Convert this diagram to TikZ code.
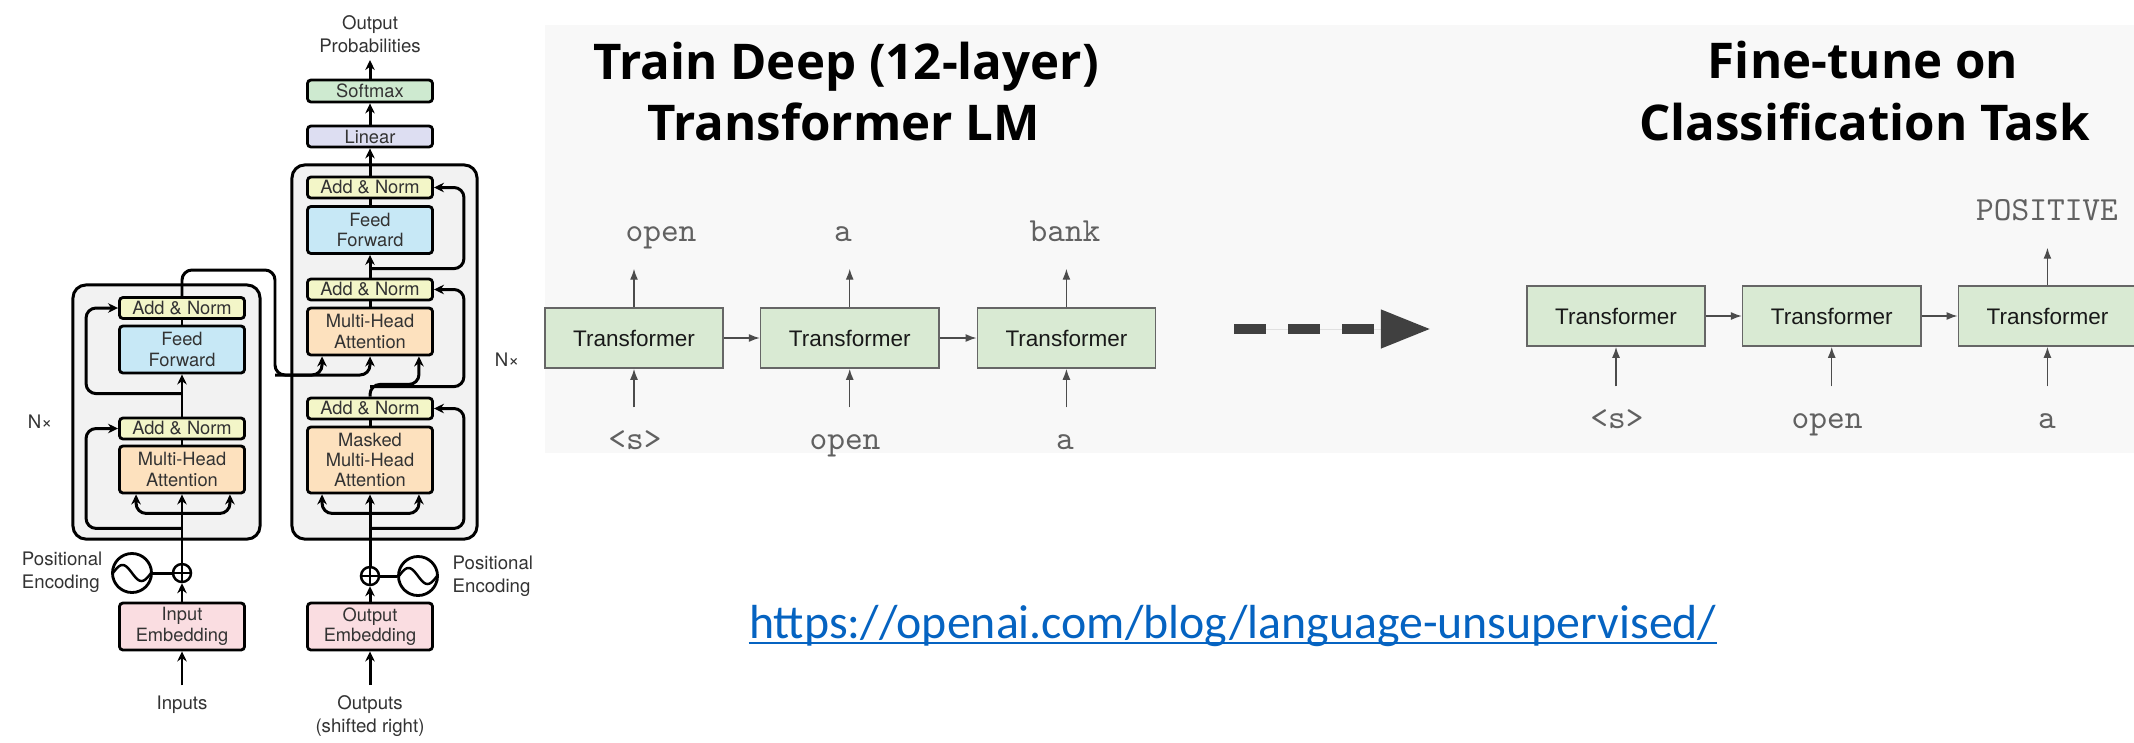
\documentclass[tikz,border=0pt]{standalone}
\usepackage{fontspec}
\usetikzlibrary{positioning}
\usetikzlibrary{calc}
\usetikzlibrary{arrows.meta}
\newfontfamily\helv{TeX Gyre Heros}
\newfontfamily\arialfont{Liberation Sans}
\newfontfamily\titlefont{Open Sans}[Ligatures=CommonOff]
\newfontfamily\linkfont{Carlito}
\definecolor{cAN}{RGB}{243,246,200}
\definecolor{cFF}{RGB}{199,232,246}
\definecolor{cATT}{RGB}{253,225,190}
\definecolor{cEMB}{RGB}{250,221,225}
\definecolor{cLIN}{RGB}{221,222,242}
\definecolor{cSOFT}{RGB}{206,234,208}
\definecolor{cSTACK}{RGB}{242,242,242}
\definecolor{cTF}{RGB}{217,234,211}
\definecolor{cPANEL}{RGB}{248,248,248}
\definecolor{linkblue}{RGB}{5,99,193}

\begin{document}
\begin{tikzpicture}[
x=0.01cm, y=-0.01cm,
wire/.style={line width=0.85pt, rounded corners=1mm},
arr/.style={wire, -{Stealth[length=1mm,width=0.95mm]}},
block/.style={draw, line width=0.8pt, rounded corners=0.35mm, minimum width=12.5mm, inner sep=0pt, align=center, font=\helv\fontsize{5.2}{5.8}\selectfont, text=black!80},
addnorm/.style={block, fill=cAN, minimum height=2.1mm},
ffbox/.style={block, fill=cFF, minimum height=4.7mm},
attbox/.style={block, fill=cATT, minimum height=4.7mm},
embbox/.style={block, fill=cEMB, minimum height=4.7mm},
stack/.style={draw, line width=0.85pt, rounded corners=1.3mm, fill=cSTACK},
archtext/.style={font=\helv\fontsize{5.3}{6.4}\selectfont, text=black!80, align=center, inner sep=1mm},
addcirc/.style={circle, draw, line width=0.7pt, minimum size=1.8mm, inner sep=0pt},
sinecirc/.style={circle, draw, line width=0.8pt, minimum size=3.9mm, inner sep=0pt},
tfbox/.style={draw=black!60, line width=0.45pt, fill=cTF, minimum width=17.8mm, minimum height=6mm, font=\arialfont\fontsize{6.4}{7.5}\selectfont, text=black!90},
token/.style={font=\ttfamily\fontsize{9.6}{11}\selectfont, text=black!62, text height=2.1mm, text depth=0.7mm, inner xsep=0pt, inner ysep=2mm},
tfarr/.style={-{Latex[length=1.1mm,width=0.8mm]}, draw=black!70, line width=0.4pt},
titletext/.style={font=\titlefont\bfseries\fontsize{14}{17}\selectfont, anchor=base, inner sep=0pt}
]
\useasboundingbox (0,0) rectangle (2134,742);

% background of the GPT panel
\fill[cPANEL] (545,25) rectangle (2134,453);

% encoder and decoder stacks
\node[stack, minimum width=18.7mm, minimum height=25.4mm] (encstack) at (166.5,412) {};
\node[stack, minimum width=18.5mm, minimum height=37.4mm] (decstack) at (384.5,352) {};

% encoder
\node[addnorm] (encanu) at (182,308) {Add \& Norm};
\node[ffbox] (encff) at (182,349.5) {Feed\\Forward};
\node[addnorm] (encanl) at (182,428.5) {Add \& Norm};
\node[attbox] (encmha) at (182,469.5) {Multi-Head\\Attention};
\node[addcirc] (encadd) at (182,573) {};
\node[sinecirc] (encsine) at (132,573) {};
\node[embbox] (encemb) at (182,626.5) {Input\\Embedding};
\node[archtext] (inputs) at (182,705) {Inputs};
\node[archtext, align=left, anchor=east, inner sep=0pt] (encpos) at (103,572) {Positional\\Encoding};
\node[archtext] (encn) at (40,422) {N×};

% decoder
\node[archtext, anchor=south, inner sep=0.7mm] (outprob) at (370,60) {Output\\Probabilities};
\node[block, fill=cSOFT, minimum height=2.2mm] (softmax) at (370,91) {Softmax};
\node[block, fill=cLIN, minimum height=2.1mm] (linear) at (370,136.5) {Linear};
\node[addnorm] (decant) at (370,187.5) {Add \& Norm};
\node[ffbox] (decff) at (370,230) {Feed\\Forward};
\node[addnorm] (decanm) at (370,289.5) {Add \& Norm};
\node[attbox] (decmha) at (370,331.5) {Multi-Head\\Attention};
\node[addnorm] (decanl) at (370,408.5) {Add \& Norm};
\node[attbox, minimum height=6.6mm] (decmmha) at (370,460) {Masked\\Multi-Head\\Attention};
\node[addcirc] (decadd) at (370,576) {};
\node[sinecirc] (decsine) at (418,576) {};
\node[embbox] (decemb) at (370,626.5) {Output\\Embedding};
\node[archtext] (outputs) at (370,716) {Outputs\\(shifted right)};
\node[archtext, align=left, anchor=west, inner sep=0pt] (decpos) at (452,576) {Positional\\Encoding};
\node[archtext] (decn) at (507,360) {N×};

% plus and sine symbols
\draw[line width=0.6pt] (encadd.north) -- (encadd.south) (encadd.west) -- (encadd.east);
\draw[line width=0.6pt] (decadd.north) -- (decadd.south) (decadd.west) -- (decadd.east);
\draw[line width=0.7pt, shift={(encsine.center)}] plot[domain=-19:19, samples=41, smooth] (\x,{8*sin(180*\x/19)});
\draw[line width=0.7pt, shift={(decsine.center)}] plot[domain=-19:19, samples=41, smooth] (\x,{8*sin(180*\x/19)});

% encoder wires
\draw[arr] (inputs) -- (encemb);
\draw[arr] (encemb) -- (encadd);
\draw[wire] (encsine) -- (encadd);
\draw[arr] (encadd) -- (encmha);
\draw[arr] ($(encmha.south)+(0,19)$) -| ($(encmha.south west)+(18,0)$);
\draw[arr] ($(encmha.south)+(0,19)$) -| ($(encmha.south east)+(-16,0)$);
\draw[arr] ($(encmha.south)+(0,34)$) -| ($(encanl.west)+(-32,0)$) -- (encanl.west);
\draw[wire] (encmha) -- (encanl);
\draw[arr] (encanl) -- (encff);
\draw[arr] ($(encanl.north)+(0,-23)$) -| ($(encanu.west)+(-32,0)$) -- (encanu.west);
\draw[wire] (encff) -- (encanu);

% encoder output into the decoder
\coordinate (memory) at (275,375);
\draw[arr] (encanu.north) |- ($(memory)+(0,-105)$) -- (memory) -| ($(decmha.south west)+(16,0)$);
\draw[arr] (memory) -| (decmha.south);

% decoder wires
\draw[arr] (outputs) -- (decemb);
\draw[arr] (decemb) -- (decadd);
\draw[wire] (decsine) -- (decadd);
\draw[arr] (decadd) -- (decmmha);
\draw[arr] ($(decmmha.south)+(0,19)$) -| ($(decmmha.south west)+(16,0)$);
\draw[arr] ($(decmmha.south)+(0,19)$) -| ($(decmmha.south east)+(-15,0)$);
\draw[arr] ($(decmmha.south)+(0,34)$) -| ($(decanl.east)+(30,0)$) -- (decanl.east);
\draw[wire] (decmmha) -- (decanl);
\draw[arr] (decanl.north) |- ($(decmha.south east)+(-15,28)$) -- ($(decmha.south east)+(-15,0)$);
\draw[arr] ($(decanl.north)+(0,-10)$) -| ($(decanm.east)+(30,0)$) -- (decanm.east);
\draw[wire] (decmha) -- (decanm);
\draw[arr] (decanm) -- (decff);
\draw[arr] ($(decanm.north)+(0,-9)$) -| ($(decant.east)+(30,0)$) -- (decant.east);
\draw[wire] (decff) -- (decant);
\draw[arr] (decant) -- (linear);
\draw[arr] (linear) -- (softmax);
\draw[arr] (softmax) -- (outprob);

% titles
\node[titletext] (ttltrain) at (846,79) {Train Deep (12-layer)};
\node[titletext] (ttltrainb) at (843.5,140) {Transformer LM};
\node[titletext] (ttltune) at (1863,78) {Fine-tune on};
\node[titletext] (ttltuneb) at (1864.5,140) {Classification Task};

% language model
\node[tfbox] (tr1) at (634,338) {Transformer};
\node[tfbox, right=3.6mm of tr1] (tr2) {Transformer};
\node[tfbox, right=3.7mm of tr2] (tr3) {Transformer};
\node[token] (out1) at (661,234) {open};
\node[token] (out2) at (843,234) {a};
\node[token] (out3) at (1065,234) {bank};
\node[token] (in1) at (635,442) {<s>};
\node[token] (in2) at (845,442) {open};
\node[token] (in3) at (1065,442) {a};

\draw[tfarr] (tr1) -- (tr2);
\draw[tfarr] (tr2) -- (tr3);
\foreach \i in {1,2,3} {
  \draw[tfarr] (tr\i.north) -- (tr\i.north |- out\i.south);
  \draw[tfarr] (tr\i.south |- in\i.north) -- (tr\i.south);
}

% transfer arrow
\coordinate (dashfrom) at (1234,329);
\coordinate (dashto) at (1431,329);
\draw[draw=black!75, fill=black!75, line width=1mm, dash pattern=on 3.2mm off 2.2mm, -{Triangle[length=5mm,width=3.6mm]}] (dashfrom) -- (dashto);

% classifier
\node[tfbox] (ft1) at (1616,316) {Transformer};
\node[tfbox, right=3.6mm of ft1] (ft2) {Transformer};
\node[tfbox, right=3.6mm of ft2] (ft3) {Transformer};
\node[token] (cls) at (2047,213) {POSITIVE};
\node[token] (fin1) at (1617,421) {<s>};
\node[token] (fin2) at (1827,421) {open};
\node[token] (fin3) at (2047,421) {a};

\draw[tfarr] (ft1) -- (ft2);
\draw[tfarr] (ft2) -- (ft3);
\draw[tfarr] (ft3.north) -- (ft3.north |- cls.south);
\foreach \i in {1,2,3} {
  \draw[tfarr] (ft\i.south |- fin\i.north) -- (ft\i.south);
}

% link
\node[font=\linkfont\fontsize{13.6}{16}\selectfont, text=linkblue, anchor=base, inner sep=0pt] (url) at (1233,638) {https://openai.com/blog/language-unsupervised/};
\draw[linkblue, line width=0.6pt] ($(url.base west)+(0,5)$) -- ($(url.base east)+(0,5)$);

\end{tikzpicture}
\end{document}
